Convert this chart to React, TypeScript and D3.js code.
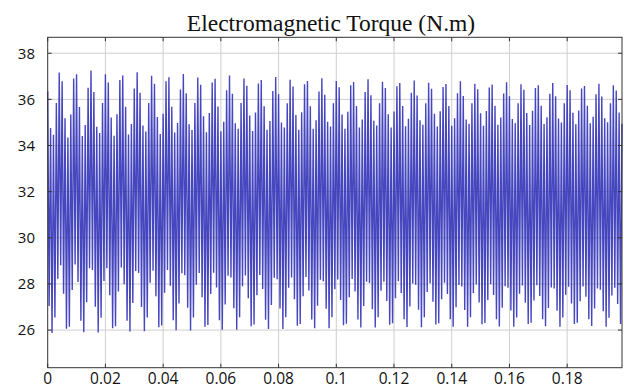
import React from "react";
import * as d3 from "d3";

// Electromagnetic torque samples: alternating local maxima (peaks) and minima (troughs),
// one peak every SAMPLE_PERIOD seconds, troughs half a period later.
const SAMPLE_PERIOD = 0.001;

const PEAKS: number[] = [
  36.35, 34.76, 34.47, 35.84, 37.16, 36.78, 35.18, 34.35, 35.34, 36.90, 37.09, 35.67, 34.41, 34.89, 36.50, 37.25,
  36.32, 34.81, 34.54, 35.84, 37.09, 36.73, 35.21, 34.42, 35.36, 36.84, 37.03, 35.68, 34.48, 34.93, 36.47, 37.18,
  36.29, 34.87, 34.61, 35.84, 37.02, 36.68, 35.24, 34.50, 35.38, 36.78, 36.96, 35.68, 34.56, 34.98, 36.43, 37.10,
  36.26, 34.92, 34.67, 35.84, 36.95, 36.63, 35.27, 34.57, 35.41, 36.73, 36.89, 35.69, 34.62, 35.03, 36.39, 37.03,
  36.24, 34.96, 34.73, 35.84, 36.90, 36.59, 35.30, 34.63, 35.43, 36.69, 36.84, 35.70, 34.68, 35.06, 36.36, 36.97,
  36.22, 35.00, 34.78, 35.83, 36.85, 36.56, 35.32, 34.68, 35.44, 36.65, 36.80, 35.70, 34.73, 35.09, 36.34, 36.92,
  36.20, 35.03, 34.82, 35.83, 36.80, 36.52, 35.34, 34.73, 35.46, 36.61, 36.75, 35.71, 34.78, 35.13, 36.32, 36.87,
  36.18, 35.07, 34.87, 35.83, 36.76, 36.49, 35.36, 34.78, 35.47, 36.57, 36.71, 35.71, 34.83, 35.16, 36.29, 36.82,
  36.17, 35.10, 34.90, 35.83, 36.72, 36.46, 35.38, 34.82, 35.49, 36.54, 36.67, 35.71, 34.86, 35.18, 36.27, 36.78,
  36.15, 35.13, 34.94, 35.83, 36.68, 36.44, 35.40, 34.86, 35.50, 36.51, 36.64, 35.72, 34.90, 35.21, 36.25, 36.74,
  36.14, 35.15, 34.97, 35.83, 36.65, 36.42, 35.41, 34.89, 35.51, 36.49, 36.61, 35.72, 34.93, 35.23, 36.24, 36.71,
  36.13, 35.17, 35.00, 35.83, 36.62, 36.40, 35.42, 34.92, 35.52, 36.47, 36.58, 35.72, 34.96, 35.25, 36.22, 36.68,
  36.12, 35.18, 35.01, 35.83, 36.61, 36.38, 35.43, 34.94,
];

const TROUGHS: number[] = [
  27.04, 25.87, 26.55, 28.22, 28.81, 27.58, 26.06, 26.15, 27.74, 28.84, 28.08, 26.41, 25.91, 27.21, 28.68, 28.60,
  27.01, 25.90, 26.54, 28.13, 28.68, 27.51, 26.08, 26.17, 27.67, 28.71, 27.99, 26.41, 25.94, 27.17, 28.56, 28.48,
  27.00, 25.95, 26.55, 28.05, 28.57, 27.47, 26.12, 26.20, 27.62, 28.60, 27.92, 26.43, 25.99, 27.15, 28.46, 28.38,
  26.97, 25.98, 26.55, 27.97, 28.47, 27.42, 26.14, 26.22, 27.56, 28.49, 27.85, 26.43, 26.01, 27.11, 28.36, 28.28,
  26.95, 26.02, 26.56, 27.90, 28.37, 27.38, 26.17, 26.24, 27.51, 28.39, 27.78, 26.45, 26.05, 27.09, 28.27, 28.20,
  26.94, 26.05, 26.56, 27.83, 28.28, 27.34, 26.19, 26.26, 27.47, 28.30, 27.72, 26.46, 26.08, 27.06, 28.18, 28.12,
  26.92, 26.08, 26.56, 27.77, 28.19, 27.30, 26.21, 26.28, 27.42, 28.21, 27.67, 26.46, 26.11, 27.04, 28.10, 28.04,
  26.90, 26.11, 26.56, 27.70, 28.10, 27.26, 26.23, 26.30, 27.38, 28.12, 27.61, 26.47, 26.13, 27.02, 28.02, 27.96,
  26.88, 26.12, 26.56, 27.65, 28.03, 27.23, 26.24, 26.30, 27.34, 28.05, 27.56, 26.47, 26.14, 26.99, 27.95, 27.89,
  26.87, 26.14, 26.56, 27.61, 27.98, 27.20, 26.25, 26.31, 27.30, 27.99, 27.52, 26.47, 26.16, 26.97, 27.90, 27.84,
  26.85, 26.15, 26.55, 27.57, 27.93, 27.18, 26.26, 26.32, 27.28, 27.94, 27.48, 26.47, 26.17, 26.96, 27.85, 27.80,
  26.84, 26.15, 26.55, 27.53, 27.88, 27.15, 26.26, 26.32, 27.25, 27.89, 27.45, 26.47, 26.18, 26.94, 27.80, 27.75,
  26.82, 26.15, 26.54, 27.50, 27.84, 27.13, 26.26,
];

const X_TICKS = [0, 0.02, 0.04, 0.06, 0.08, 0.1, 0.12, 0.14, 0.16, 0.18];
const Y_TICKS = [26, 28, 30, 32, 34, 36, 38];
const X_DOMAIN = [0, 0.199];
const Y_DOMAIN = [24.37, 38.69];
const TITLE = "Electromagnetic Torque (N.m)";

const W = 624;
const H = 387;
const M = { left: 47.7, right: 2, top: 37.3, bottom: 19.3 };

export default function App() {
  const x = d3.scaleLinear().domain(X_DOMAIN).range([M.left, W - M.right]);
  const y = d3.scaleLinear().domain(Y_DOMAIN).range([H - M.bottom, M.top]);

  const pts: [number, number][] = [];
  PEAKS.forEach((p, i) => {
    pts.push([i * SAMPLE_PERIOD, p]);
    if (i < TROUGHS.length) pts.push([i * SAMPLE_PERIOD + SAMPLE_PERIOD / 2, TROUGHS[i]]);
  });
  const line = d3
    .line<[number, number]>()
    .x((d) => x(d[0]))
    .y((d) => y(d[1]));

  const x0 = M.left;
  const x1 = W - M.right;
  const y0 = H - M.bottom;
  const y1 = M.top;
  const font = "'Open Sans', sans-serif";

  return (
    <svg
      width={W}
      height={H}
      style={{ position: "absolute", left: 0, top: 0, background: "#fff" }}
    >
      <rect x={0} y={0} width={W} height={H} fill="#fff" />
      <text
        x={331}
        y={31}
        textAnchor="middle"
        fontFamily="'Liberation Serif', 'Times New Roman', serif"
        fontSize={23.5}
        fill="#111"
      >
        {TITLE}
      </text>
      {/* grid */}
      {X_TICKS.slice(1).map((t) => (
        <line key={"gx" + t} x1={x(t)} x2={x(t)} y1={y1} y2={y0} stroke="#cfcfcf" strokeWidth={1} />
      ))}
      {Y_TICKS.map((t) => (
        <line key={"gy" + t} x1={x0} x2={x1} y1={y(t)} y2={y(t)} stroke="#cfcfcf" strokeWidth={1} />
      ))}
      <path d={line(pts) || ""} fill="none" stroke="#3232b8" strokeWidth={1.4} strokeOpacity={0.9} />
      {/* frame */}
      <rect x={x0} y={y1} width={x1 - x0} height={y0 - y1} fill="none" stroke="#333" strokeWidth={1} />
      {X_TICKS.map((t) => (
        <g key={"tx" + t}>
          <line x1={x(t)} x2={x(t)} y1={y0} y2={y0 - 4} stroke="#333" />
          <line x1={x(t)} x2={x(t)} y1={y1} y2={y1 + 4} stroke="#333" />
          <text x={x(t)} y={383.5} textAnchor="middle" fontFamily={font} fontSize={15.5} fill="#111">
            {String(t)}
          </text>
        </g>
      ))}
      {Y_TICKS.map((t) => (
        <g key={"ty" + t}>
          <line x1={x0} x2={x0 + 4} y1={y(t)} y2={y(t)} stroke="#333" />
          <line x1={x1} x2={x1 - 4} y1={y(t)} y2={y(t)} stroke="#333" />
          <text
            x={35}
            y={y(t)}
            dy="0.36em"
            textAnchor="end"
            fontFamily={font}
            fontSize={15}
            fill="#111"
          >
            {String(t)}
          </text>
        </g>
      ))}
    </svg>
  );
}
